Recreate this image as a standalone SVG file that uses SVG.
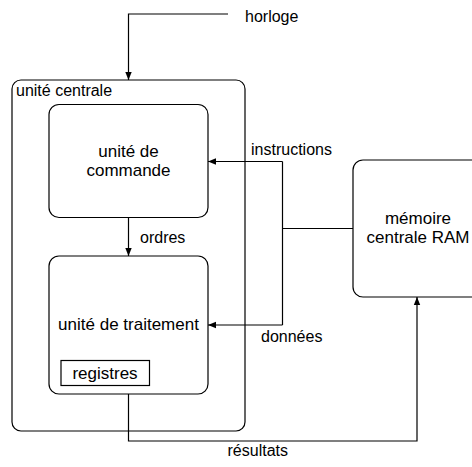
<svg xmlns="http://www.w3.org/2000/svg" width="472" height="467" viewBox="0 0 472 467">
<defs>
<marker id="arr" viewBox="0 0 10 10" refX="10" refY="5" markerWidth="8" markerHeight="8" markerUnits="userSpaceOnUse" orient="auto">
<path d="M0,1 L10,5 L0,9 z" fill="#000"/>
</marker>
<style>
.box{fill:none;stroke:#000;stroke-width:1.2}
.edge{fill:none;stroke:#000;stroke-width:1.2}
text{font-family:"Liberation Sans",Arial,sans-serif;fill:#000}
.lbl{font-size:16px}
.node{font-size:17px;text-anchor:middle}
</style>
</defs>
<rect width="472" height="467" fill="#fff"/>
<g id="unite-centrale">
<rect class="box" x="12" y="80" width="233" height="351" rx="9"/>
<text class="lbl" x="16" y="96">unité centrale</text>
</g>
<g id="unite-de-commande">
<rect class="box" x="49" y="104.5" width="159" height="113" rx="10"/>
<text class="node" x="128.5" y="157">unité de</text>
<text class="node" x="128.5" y="176">commande</text>
</g>
<g id="unite-de-traitement">
<rect class="box" x="49" y="256" width="159" height="138" rx="10"/>
<text class="node" x="128.5" y="330">unité de traitement</text>
</g>
<g id="registres">
<rect class="box" x="61" y="360.5" width="88.5" height="25"/>
<text class="node" x="105" y="379">registres</text>
</g>
<g id="memoire">
<rect class="box" x="353" y="160" width="140" height="137" rx="10"/>
<text class="node" x="418" y="224">mémoire</text>
<text class="node" x="418" y="243">centrale RAM</text>
</g>
<g id="horloge">
<text class="lbl" x="245" y="22">horloge</text>
</g>
<g id="connectors">
<path class="edge" d="M228,14 H128.5 V80" marker-end="url(#arr)"/>
<path class="edge" d="M128.5,217.5 V256" marker-end="url(#arr)"/>
<text class="lbl" x="140" y="242.5">ordres</text>
<path class="edge" d="M353,228.5 H282.5"/>
<path class="edge" d="M282.5,161.5 V325"/>
<path class="edge" d="M282.5,161.5 H208" marker-end="url(#arr)"/>
<path class="edge" d="M282.5,325 H208" marker-end="url(#arr)"/>
<text class="lbl" x="251" y="155">instructions</text>
<text class="lbl" x="261" y="342">données</text>
<path class="edge" d="M128.5,394 V441 H417 V297" marker-end="url(#arr)"/>
<text class="lbl" x="227.5" y="455.5">résultats</text>
</g>
</svg>
